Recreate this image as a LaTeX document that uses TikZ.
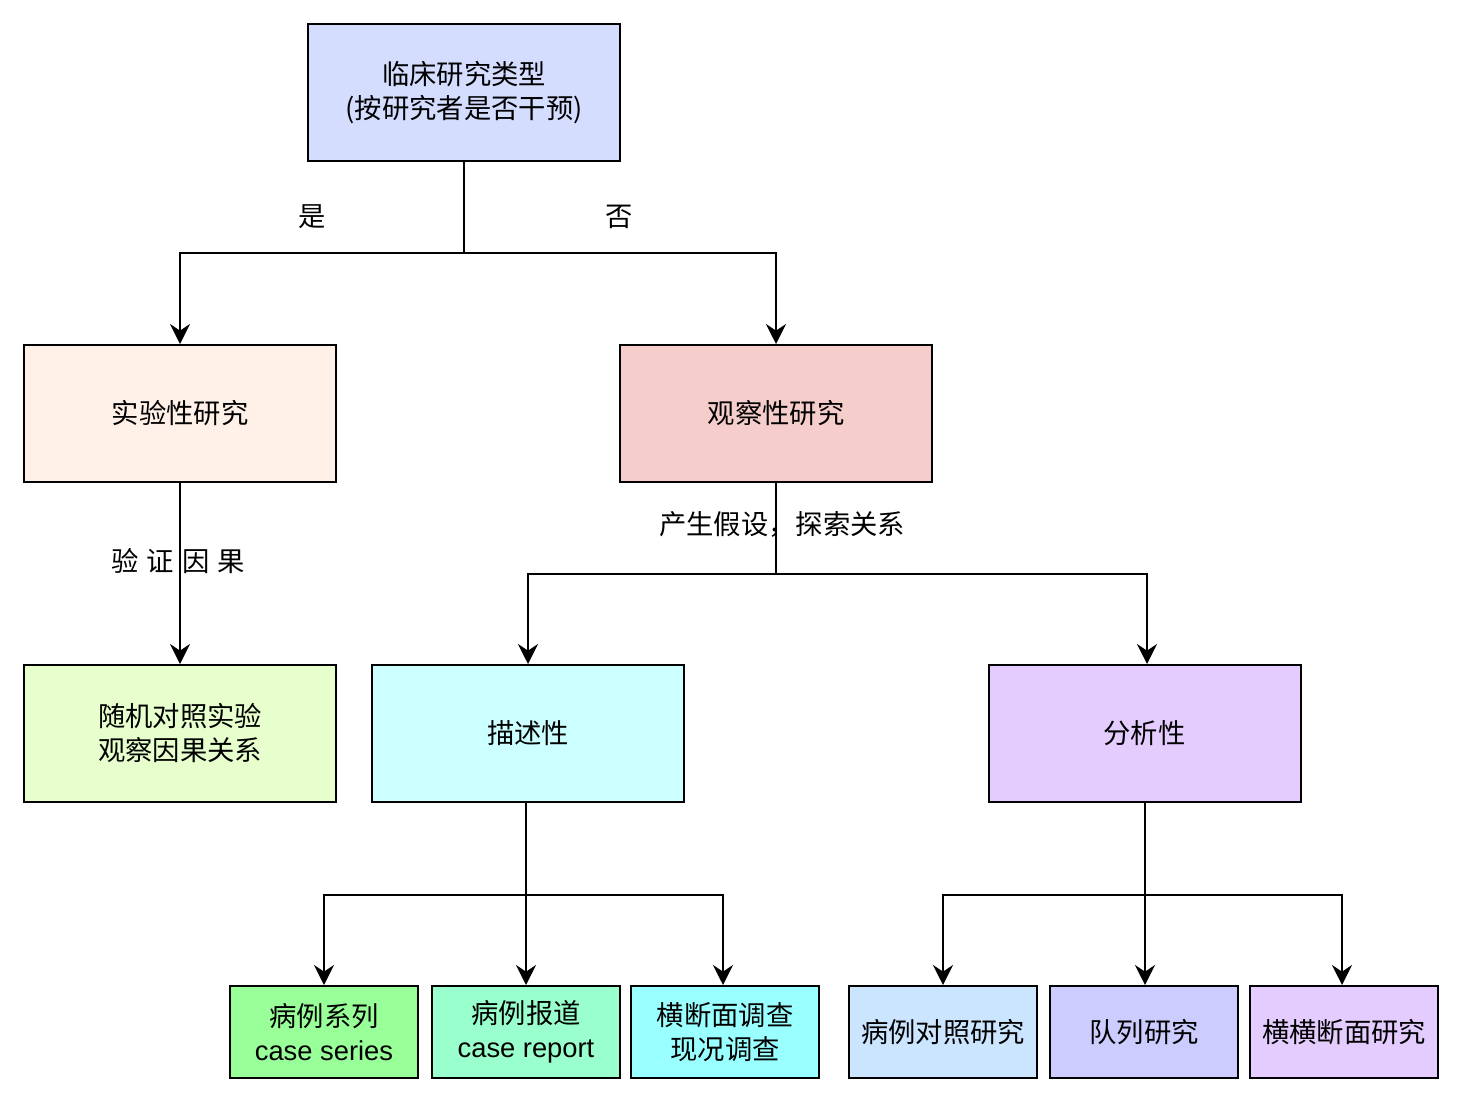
\documentclass[tikz,border=0pt]{standalone}
\usepackage{fontspec}
\setmainfont{Liberation Sans}
\newfontfamily\cjk{Noto Sans CJK SC}
\usetikzlibrary{arrows.meta}
\definecolor{cTop}{RGB}{213,221,255}
\definecolor{cExp}{RGB}{255,241,232}
\definecolor{cObs}{RGB}{245,205,203}
\definecolor{cRct}{RGB}{230,255,204}
\definecolor{cDes}{RGB}{204,255,255}
\definecolor{cAna}{RGB}{229,204,255}
\definecolor{cSer}{RGB}{153,255,153}
\definecolor{cRep}{RGB}{153,255,204}
\definecolor{cCro}{RGB}{153,255,255}
\definecolor{cCc}{RGB}{204,229,255}
\definecolor{cCoh}{RGB}{204,204,255}
\definecolor{cCs}{RGB}{229,204,255}
\tikzset{
  base/.style={draw=black, line width=1.5pt, align=center, inner sep=0pt,
    font=\cjk\fontsize{20.5}{25.5}\selectfont},
  bigbox/.style={base, minimum width=234pt, minimum height=102.75pt},
  smallbox/.style={base, minimum width=141pt, minimum height=69pt},
  conn/.style={line width=1.5pt, draw=black},
  arr/.style={conn, -{Stealth[length=15pt,width=15pt,inset=5pt]}},
  lbl/.style={font=\cjk\fontsize{20.5}{25.5}\selectfont, inner sep=0pt}
}
\begin{document}
\begin{tikzpicture}[x=0.75pt,y=-0.75pt]
\useasboundingbox (0,0) rectangle (1462,1102);
% nodes
\node[bigbox, fill=cTop] (top) at (464,92.5) {临床研究类型\\(按研究者是否干预)};
\node[bigbox, fill=cExp] (exp) at (180,413.5) {实验性研究};
\node[bigbox, fill=cObs] (obs) at (776,413.5) {观察性研究};
\node[bigbox, fill=cRct] (rct) at (180,733.5) {随机对照实验\\观察因果关系};
\node[bigbox, fill=cDes] (des) at (528,733.5) {描述性};
\node[bigbox, fill=cAna] (ana) at (1144.5,733.5) {分析性};
\node[smallbox, fill=cSer] (ser) at (324,1032) {病例系列\\{\rmfamily case series}};
\node[smallbox, fill=cRep] (rep) at (526,1032) {病例报道\\{\rmfamily case report}};
\node[smallbox, fill=cCro] (cro) at (725,1032) {横断面调查\\现况调查};
\node[smallbox, fill=cCc] (cc) at (943,1032) {病例对照研究};
\node[smallbox, fill=cCoh] (coh) at (1144,1032) {队列研究};
\node[smallbox, fill=cCs] (cs) at (1344,1032) {横横断面研究};
% labels
\node[lbl] (lyes) at (312,217) {是};
\node[lbl] (lno) at (619,217) {否};
\node[lbl] (lver) at (178,561) {验\hspace{0.3em}证\hspace{0.3em}因\hspace{0.3em}果};
\node[lbl] (lhyp) at (782,524) {产生假设，探索关系};
% junctions
\coordinate (j1) at (464,253);
\coordinate (j2) at (776,574);
\coordinate (j3) at (526,895);
\coordinate (j4) at (1145,895);
% connectors
\draw[conn] (top.south) -- (j1);
\draw[arr] (j1) -| (exp.north);
\draw[arr] (j1) -| (obs.north);
\draw[arr] (exp.south) -- (rct.north);
\draw[conn] (obs.south) -- (j2);
\draw[arr] (j2) -| (des.north);
\draw[arr] (j2) -| (ana.north -| 1147,0);
\draw[conn] (des.south -| j3) -- (j3);
\draw[arr] (j3) -| (ser.north);
\draw[arr] (j3) -- (rep.north -| j3);
\draw[arr] (j3) -| (cro.north -| 723,0);
\draw[conn] (ana.south -| j4) -- (j4);
\draw[arr] (j4) -| (cc.north);
\draw[arr] (j4) -- (coh.north -| j4);
\draw[arr] (j4) -| (cs.north -| 1342,0);
\end{tikzpicture}
\end{document}
